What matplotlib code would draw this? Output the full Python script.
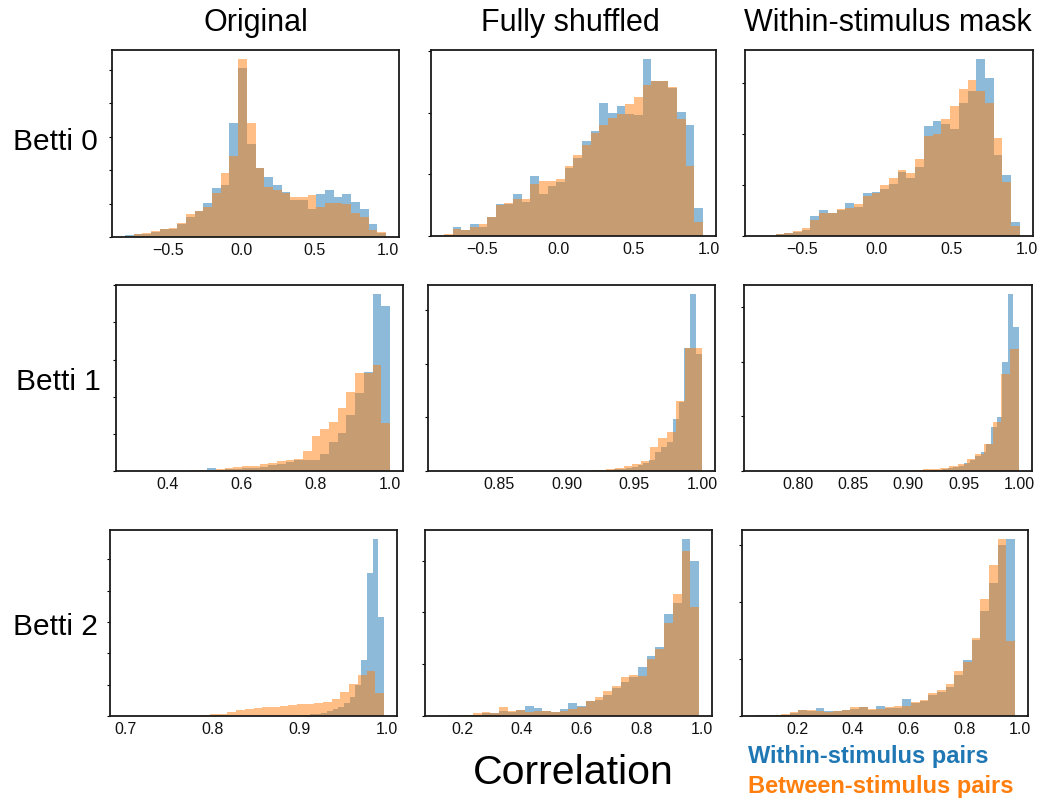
import numpy as np
import matplotlib
matplotlib.use("Agg")
import matplotlib.pyplot as plt
from matplotlib.ticker import MultipleLocator

plt.rcParams['font.family'] = ['Liberation Sans', 'DejaVu Sans']

# ---------------- data (pre-binned histograms, 30 bins each) ----------------
col_titles = ["Original", "Fully shuffled", "Within-stimulus mask"]
row_titles = ["Betti 0", "Betti 1", "Betti 2"]
legend_labels = ["Within-stimulus pairs", "Between-stimulus pairs"]

# value ranges (lo, hi) of each series' bins
orig_b0_range_within = (-0.795, 0.99)
orig_b0_range_between = (-0.795, 0.99)
orig_b0_within = [0.07, 0.08, 0.10, 0.15, 0.23, 0.25, 0.40, 0.60, 0.77, 1.02, 1.45, 1.55, 3.40, 5.05, 2.78,
                  2.05, 1.80, 1.55, 1.35, 1.12, 1.10, 0.85, 1.28, 1.40, 1.20, 1.28, 1.05, 0.85, 0.40, 0.13]
orig_b0_between = [0.02, 0.10, 0.12, 0.18, 0.25, 0.28, 0.43, 0.68, 0.77, 0.90, 1.30, 1.92, 2.42, 5.32, 3.40,
                   2.05, 1.50, 1.40, 1.30, 1.18, 1.20, 1.24, 0.90, 1.02, 1.02, 1.00, 0.72, 0.60, 0.22, 0.15]

shuf_b0_range_within = (-0.755, 0.959)
shuf_b0_range_between = (-0.755, 0.959)
shuf_b0_within = [0.00, 0.15, 0.10, 0.20, 0.14, 0.31, 0.52, 0.52, 0.68, 0.55, 0.97, 0.69, 0.81, 0.88, 1.10,
                  1.27, 1.54, 1.71, 2.16, 2.00, 2.11, 1.98, 1.96, 2.88, 2.52, 2.52, 2.40, 2.02, 1.80, 0.46]
shuf_b0_between = [0.04, 0.12, 0.10, 0.15, 0.20, 0.31, 0.50, 0.54, 0.60, 0.60, 0.85, 0.90, 0.90, 0.92, 1.14,
                   1.31, 1.48, 1.67, 1.81, 1.92, 1.98, 2.14, 2.26, 2.46, 2.52, 2.52, 2.42, 1.90, 1.14, 0.22]

mask_b0_range_within = (-0.79, 0.953)
mask_b0_range_between = (-0.79, 0.953)
mask_b0_within = [0.00, 0.00, 0.03, 0.05, 0.08, 0.12, 0.39, 0.50, 0.46, 0.50, 0.65, 0.56, 0.85, 0.87, 0.92,
                  1.02, 1.25, 1.13, 1.36, 2.15, 2.25, 2.20, 2.10, 2.60, 2.85, 3.47, 3.10, 1.58, 1.20, 0.27]
mask_b0_between = [0.00, 0.00, 0.04, 0.06, 0.10, 0.16, 0.32, 0.45, 0.46, 0.52, 0.55, 0.62, 0.78, 0.85, 1.00,
                   1.14, 1.30, 1.24, 1.50, 1.95, 2.00, 2.30, 2.55, 2.87, 3.05, 2.85, 2.60, 1.92, 1.05, 0.20]

orig_b1_range_within = (0.297, 1.0)
orig_b1_range_between = (0.297, 1.0)
orig_b1_within = [0, 0, 0, 0, 0, 0.01, 0.01, 0.01, 0.02, 0.07, 0.04, 0.05, 0.06, 0.07, 0.08,
                  0.12, 0.15, 0.20, 0.25, 0.29, 0.29, 0.30, 0.47, 0.78, 1.03, 1.50, 2.09, 2.66, 4.77, 4.43]
orig_b1_between = [0, 0, 0, 0.005, 0.01, 0.01, 0.01, 0.02, 0.03, 0.04, 0.06, 0.08, 0.10, 0.13, 0.14,
                   0.18, 0.22, 0.28, 0.30, 0.33, 0.53, 0.94, 1.12, 1.32, 1.70, 2.13, 2.64, 2.64, 2.85, 1.28]

shuf_b1_range_within = (0.87, 1.0)
shuf_b1_range_between = (0.807, 1.0)
shuf_b1_within = [0, 0, 0, 0, 0, 0, 0, 0, 0, 0, 0, 0.02, 0.01, 0.015, 0.02,
                  0.03, 0.04, 0.06, 0.08, 0.12, 0.15, 0.20, 0.35, 0.45, 0.55, 0.98, 1.29, 2.29, 3.31, 2.19]
shuf_b1_between = [0, 0, 0, 0, 0, 0, 0, 0, 0, 0, 0, 0, 0, 0, 0,
                   0.003, 0.006, 0.01, 0.02, 0.04, 0.06, 0.09, 0.13, 0.19, 0.45, 0.62, 0.73, 1.30, 2.29, 2.29]

mask_b1_range_within = (0.851, 1.0)
mask_b1_range_between = (0.763, 1.0)
mask_b1_within = [0, 0, 0, 0, 0, 0, 0, 0, 0, 0, 0, 0, 0, 0, 0.01,
                  0.02, 0.03, 0.05, 0.07, 0.10, 0.14, 0.20, 0.28, 0.35, 0.50, 0.80, 0.99, 1.99, 3.24, 2.64]
mask_b1_between = [0, 0, 0, 0, 0, 0, 0, 0, 0, 0, 0, 0, 0, 0, 0,
                   0, 0, 0.005, 0.015, 0.03, 0.04, 0.06, 0.09, 0.13, 0.22, 0.32, 0.49, 0.89, 1.77, 2.23]

orig_b2_range_within = (0.80, 0.997)
orig_b2_range_between = (0.697, 0.997)
orig_b2_within = [0, 0, 0, 0, 0, 0, 0, 0, 0, 0, 0, 0, 0, 0, 0.01,
                  0.02, 0.03, 0.05, 0.07, 0.10, 0.15, 0.22, 0.30, 0.40, 0.60, 1.00, 1.78, 4.55, 5.65, 3.15]
orig_b2_between = [0, 0, 0, 0, 0, 0, 0, 0.005, 0.01, 0.03, 0.05, 0.07, 0.12, 0.18, 0.22,
                   0.26, 0.28, 0.30, 0.33, 0.34, 0.37, 0.37, 0.40, 0.45, 0.55, 0.75, 1.02, 1.30, 1.45, 0.73]

shuf_b2_range_within = (0.12, 0.99)
shuf_b2_range_between = (0.12, 0.99)
shuf_b2_within = [0, 0.01, 0.02, 0.01, 0.02, 0.06, 0.05, 0.10, 0.07, 0.11, 0.20, 0.15, 0.10, 0.08, 0.14,
                  0.26, 0.19, 0.29, 0.30, 0.40, 0.55, 0.65, 0.75, 0.95, 1.15, 1.33, 1.97, 2.18, 3.42, 3.00]
shuf_b2_between = [0, 0, 0, 0.02, 0.05, 0.07, 0.05, 0.18, 0.10, 0.12, 0.08, 0.10, 0.10, 0.08, 0.10,
                   0.13, 0.18, 0.28, 0.36, 0.48, 0.57, 0.75, 0.80, 0.77, 1.10, 1.30, 1.79, 2.35, 3.18, 2.10]

mask_b2_range_within = (0.049, 0.982)
mask_b2_range_between = (0.049, 0.982)
mask_b2_within = [0.01, 0.01, 0.015, 0.02, 0.06, 0.10, 0.09, 0.14, 0.08, 0.08, 0.11, 0.12, 0.15, 0.10, 0.18,
                  0.14, 0.14, 0.30, 0.23, 0.26, 0.37, 0.42, 0.50, 0.72, 0.98, 1.33, 1.84, 2.32, 3.00, 3.10]
mask_b2_between = [0, 0.005, 0.01, 0.03, 0.07, 0.11, 0.10, 0.08, 0.07, 0.09, 0.10, 0.15, 0.15, 0.12, 0.13,
                   0.16, 0.17, 0.18, 0.25, 0.28, 0.40, 0.46, 0.56, 0.78, 0.94, 1.36, 2.04, 2.64, 3.10, 1.32]

xticks_b0 = [-0.5, 0.0, 0.5, 1.0]
xticks_orig_b1 = [0.4, 0.6, 0.8, 1.0]
xticks_shuf_b1 = [0.85, 0.90, 0.95, 1.00]
xticks_mask_b1 = [0.80, 0.85, 0.90, 0.95, 1.00]
xticks_orig_b2 = [0.7, 0.8, 0.9, 1.0]
xticks_b2 = [0.2, 0.4, 0.6, 0.8, 1.0]

panels = [
    [(orig_b0_range_within, orig_b0_within, orig_b0_range_between, orig_b0_between, xticks_b0, "%.1f"),
     (shuf_b0_range_within, shuf_b0_within, shuf_b0_range_between, shuf_b0_between, xticks_b0, "%.1f"),
     (mask_b0_range_within, mask_b0_within, mask_b0_range_between, mask_b0_between, xticks_b0, "%.1f")],
    [(orig_b1_range_within, orig_b1_within, orig_b1_range_between, orig_b1_between, xticks_orig_b1, "%.1f"),
     (shuf_b1_range_within, shuf_b1_within, shuf_b1_range_between, shuf_b1_between, xticks_shuf_b1, "%.2f"),
     (mask_b1_range_within, mask_b1_within, mask_b1_range_between, mask_b1_between, xticks_mask_b1, "%.2f")],
    [(orig_b2_range_within, orig_b2_within, orig_b2_range_between, orig_b2_between, xticks_orig_b2, "%.1f"),
     (shuf_b2_range_within, shuf_b2_within, shuf_b2_range_between, shuf_b2_between, xticks_b2, "%.1f"),
     (mask_b2_range_within, mask_b2_within, mask_b2_range_between, mask_b2_between, xticks_b2, "%.1f")],
]

# ---------------- layout ----------------
W, H = 1039, 801
fig = plt.figure(figsize=(W / 100, H / 100), dpi=100)

# axes boxes in pixels: (left, top, right, bottom)
boxes = [
    [(112, 50, 399, 237), (431, 50, 716, 236), (745, 50, 1033, 236)],
    [(116, 285, 403, 471), (428, 285, 715, 471), (744, 285, 1032, 471)],
    [(110, 530, 397, 716), (425, 530, 712, 716), (742, 530, 1028, 716)],
]

c_within = "#1f77b4"
c_between = "#ff7f0e"

for r in range(3):
    for c in range(3):
        L, T, R, B = boxes[r][c]
        ax = fig.add_axes([L / W, 1 - B / H, (R - L) / W, (B - T) / H])
        rw, vw, rb, vb, xt, fmt = panels[r][c]
        ew = np.linspace(rw[0], rw[1], len(vw) + 1)
        eb = np.linspace(rb[0], rb[1], len(vb) + 1)
        ax.hist(ew[:-1], bins=ew, weights=vw, color=c_within, alpha=0.5)
        ax.hist(eb[:-1], bins=eb, weights=vb, color=c_between, alpha=0.5)
        ax.set_xticks(xt)
        ax.set_xticklabels([(fmt % v).replace("-", "\u2212") for v in xt])
        ax.yaxis.set_major_locator(MultipleLocator(1))
        ax.set_yticklabels([])
        ax.tick_params(axis='x', length=0, pad=4, labelsize=11.5, colors='#111111')
        ax.tick_params(axis='y', length=2.5, width=0.8, direction='out')
        for s in ax.spines.values():
            s.set_linewidth(1.3)
            s.set_color('#1a1a1a')

# column titles
col_x = [256, 570, 888]
for x, t in zip(col_x, col_titles):
    fig.text(x / W, 1 - 23 / H, t, ha='center', va='center', fontsize=22)

# row titles
row_pos = [(55, 142), (58, 382), (55, 627)]
for (x, y), t in zip(row_pos, row_titles):
    fig.text(x / W, 1 - y / H, t, ha='center', va='center', fontsize=21.5)

fig.text(573 / W, 1 - 773 / H, "Correlation", ha='center', va='center', fontsize=29.5)
fig.text(748 / W, 1 - 757 / H, legend_labels[0], ha='left', va='center', fontsize=17,
         fontweight='bold', color=c_within)
fig.text(748 / W, 1 - 786 / H, legend_labels[1], ha='left', va='center', fontsize=17,
         fontweight='bold', color=c_between)

fig.savefig("out.png", dpi=100)
